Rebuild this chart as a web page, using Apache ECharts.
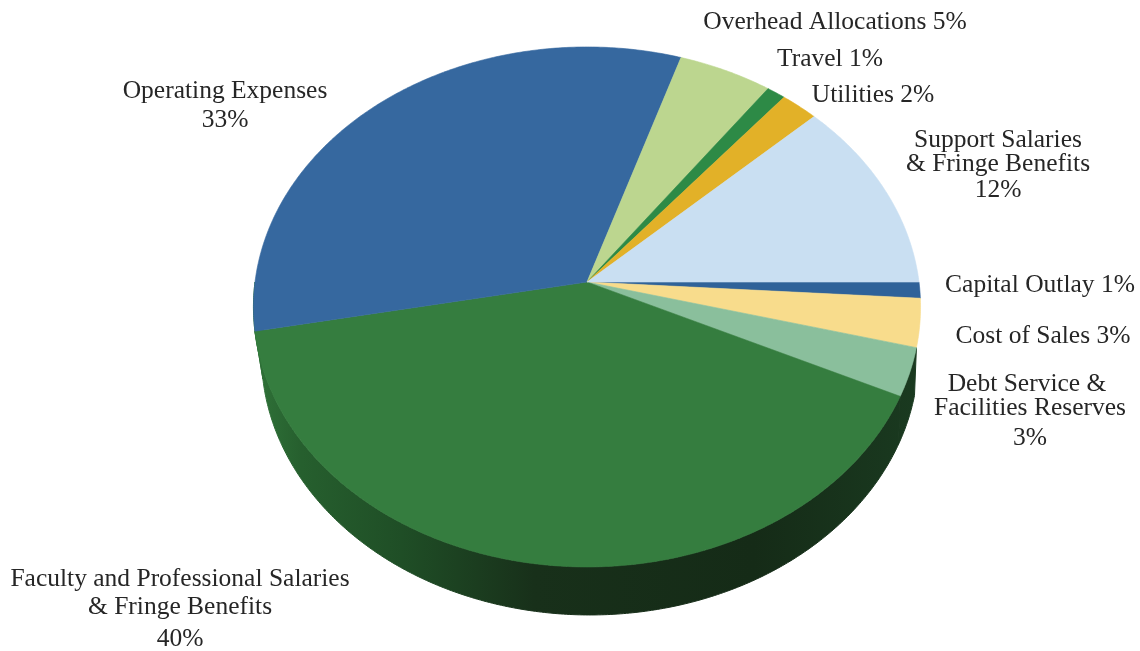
<!DOCTYPE html>
<html>
<head>
<meta charset="utf-8">
<style>html,body{margin:0;padding:0;background:#fff}#c{width:1140px;height:651px}</style>
<script src="https://cdn.jsdelivr.net/npm/echarts@6/dist/echarts.min.js"></script>
</head>
<body>
<div id="c"></div>
<script>
// Data, clockwise from the east edge of the pie
const categories = ['Capital Outlay','Cost of Sales','Debt Service & Facilities Reserves','Faculty and Professional Salaries & Fringe Benefits','Operating Expenses','Overhead Allocations','Travel','Utilities','Support Salaries & Fringe Benefits'];
const shares = [1,3,3,40,33,5,1,2,12];
const sliceColors = ['#2f6299','#f8dc8c','#8abf9c','#357d3f','#36689f','#bcd68f','#2d8a46','#e2b128','#c9dff2'];
const labelLines = [
  ['Capital Outlay 1%'],
  ['Cost of Sales 3%'],
  ['Debt Service &','Facilities Reserves','3%'],
  ['Faculty and Professional Salaries','& Fringe Benefits','40%'],
  ['Operating Expenses','33%'],
  ['Overhead Allocations 5%'],
  ['Travel 1%'],
  ['Utilities 2%'],
  ['Support Salaries','& Fringe Benefits','12%']
];
// Label layout: centre x and middle y of each line
const labelAnchors = [
  [[1040,285]],
  [[1043,336]],
  [[1027,384],[1030,408],[1030,438]],
  [[180,579],[180,607],[180,639]],
  [[225,91],[225,120]],
  [[835,22]],
  [[830,59]],
  [[873,95]],
  [[998,140],[998,164],[998,190]]
];

// Perspective projection of the unit disc
const geo = {cx:587, cy:282, rx:332, ry:257.6, p:0.096, depth:48, baseCx:590, baseRx:327};
function project(deg, base){
  const t = deg*Math.PI/180, X = Math.cos(t), Y = Math.sin(t), w = 1-geo.p*Y;
  return base
    ? [geo.baseCx+geo.baseRx*X/w, geo.cy+geo.ry*Y/w+geo.depth]
    : [geo.cx+geo.rx*X/w, geo.cy+geo.ry*Y/w];
}
function arc(a0,a1,base){
  const pts=[], n=Math.max(2,Math.ceil(Math.abs(a1-a0)*2));
  for(let i=0;i<=n;i++) pts.push(project(a0+(a1-a0)*i/n,base));
  return pts;
}
const starts=[]; shares.reduce((s,v,i)=>(starts[i]=s,s+v),0);
const total = shares.reduce((a,b)=>a+b,0);
const rows = shares.map((v,i)=>[starts[i],v,i]);
const sideFill = new echarts.graphic.LinearGradient(255,0,920,0,[
  {offset:0,color:'#2f7238'},{offset:0.07,color:'#265f2e'},{offset:0.22,color:'#1f4e26'},
  {offset:0.42,color:'#18301a'},{offset:0.75,color:'#152b17'},{offset:1,color:'#1a3a20'}
],true);

function sideItem(params,api){
  const a0=api.value(0)/total*360, a1=(api.value(0)+api.value(1))/total*360;
  // only the slices on the near rim past the cost-of-sales slice show a wall
  if(a0>=180 || a1<=15) return null;
  const end=Math.min(a1,180);
  const top=arc(a0,end,false), bot=arc(end,a0,true);
  return {type:'polygon',shape:{points:top.concat(bot)},style:{fill:sideFill,stroke:sideFill,lineWidth:1}};
}
function topItem(params,api){
  const a0=api.value(0)/total*360, a1=(api.value(0)+api.value(1))/total*360;
  const c=sliceColors[api.value(2)];
  return {type:'polygon',shape:{points:[[geo.cx,geo.cy]].concat(arc(a0,a1,false))},style:{fill:c,stroke:c,lineWidth:0.6}};
}
const texts=[];
labelLines.forEach((lines,i)=>lines.forEach((s,j)=>texts.push({
  type:'text',x:labelAnchors[i][j][0],y:labelAnchors[i][j][1],
  style:{text:s,x:0,y:0,align:'center',verticalAlign:'middle',fill:'#262626',font:'25.5px "Liberation Serif"'}
})));
const chart=echarts.init(document.getElementById('c'),null,{renderer:'canvas'});
chart.setOption({
  animation:false,
  backgroundColor:'#fff',
  tooltip:{show:false},
  series:[
    {type:'custom',coordinateSystem:'none',silent:true,data:rows,renderItem:sideItem,z:1,dimensions:['start','share','idx']},
    {type:'custom',coordinateSystem:'none',silent:true,data:rows,renderItem:topItem,z:2,dimensions:['start','share','idx']}
  ],
  graphic:{elements:texts}
});
</script>
</body>
</html>
